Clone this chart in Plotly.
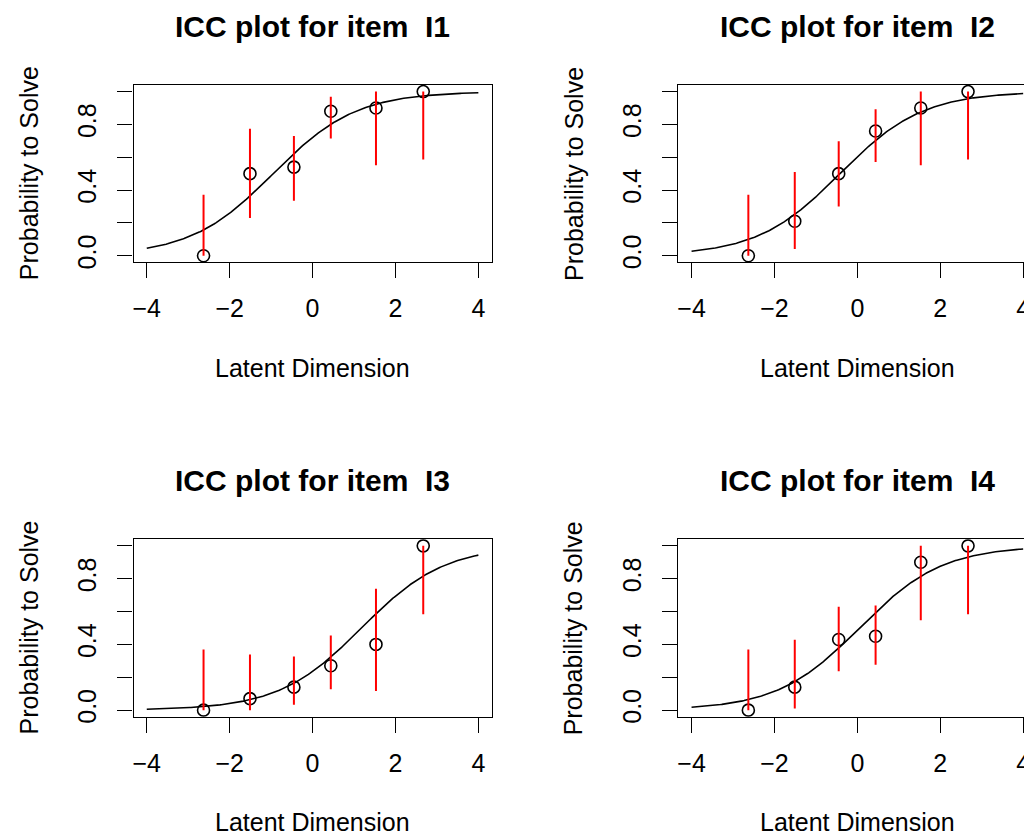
import numpy as np
import plotly.graph_objects as go

# ---------------- data ----------------
items = ["I1", "I2", "I3", "I4"]
item_location = [-0.95, -0.42, 1.18, 0.05]          # point where curve = 0.5
group_x = [-2.63, -1.51, -0.45, 0.44, 1.53, 2.67]     # latent group positions

emp_I1 = [0.00, 0.50, 0.54, 0.88, 0.90, 1.00]
emp_I2 = [0.00, 0.21, 0.50, 0.76, 0.90, 1.00]
emp_I3 = [0.00, 0.07, 0.14, 0.27, 0.40, 1.00]
emp_I4 = [0.00, 0.14, 0.43, 0.45, 0.90, 1.00]

lo_I1 = [0.00, 0.23, 0.335, 0.714, 0.551, 0.586]
lo_I2 = [0.00, 0.041, 0.30, 0.571, 0.551, 0.586]
lo_I3 = [0.00, 0.00, 0.033, 0.127, 0.116, 0.584]
lo_I4 = [0.00, 0.01, 0.237, 0.276, 0.547, 0.584]

hi_I1 = [0.371, 0.773, 0.729, 0.969, 1.00, 1.00]
hi_I2 = [0.371, 0.51, 0.698, 0.892, 1.00, 1.00]
hi_I3 = [0.369, 0.339, 0.327, 0.455, 0.739, 1.00]
hi_I4 = [0.369, 0.429, 0.629, 0.637, 1.00, 1.00]

emp = [emp_I1, emp_I2, emp_I3, emp_I4]
lows = [lo_I1, lo_I2, lo_I3, lo_I4]
highs = [hi_I1, hi_I2, hi_I3, hi_I4]

x_ticks = [-4, -2, 0, 2, 4]
y_ticks = [0.0, 0.2, 0.4, 0.6, 0.8, 1.0]
y_ticktext = ["0.0", "", "0.4", "", "0.8", ""]

# ---------------- layout geometry (pixels) ----------------
W, H = 1024, 835
FONT = "Liberation Sans, Arial, Helvetica, sans-serif"
px_per_unit = 41.45
panels = [
    dict(left=133.5, right=491.7, top=85.0, bottom=262.3),
    dict(left=678.3, right=1024.0, top=85.0, bottom=262.3),
    dict(left=133.5, right=491.7, top=539.3, bottom=716.7),
    dict(left=678.3, right=1024.0, top=539.3, bottom=716.7),
]

fig = go.Figure()
curve_x = np.linspace(-4, 4, 241)

for i, name in enumerate(items):
    p = panels[i]
    xa = "x" if i == 0 else f"x{i+1}"
    ya = "y" if i == 0 else f"y{i+1}"
    b = item_location[i]
    curve_y = 1.0 / (1.0 + np.exp(-(curve_x - b)))
    fig.add_trace(go.Scatter(x=curve_x, y=curve_y, mode="lines",
                             line=dict(color="black", width=1.6),
                             xaxis=xa, yaxis=ya, showlegend=False, hoverinfo="skip"))
    fig.add_trace(go.Scatter(x=group_x, y=emp[i], mode="markers",
                             marker=dict(symbol="circle-open", size=12,
                                         color="black", line=dict(width=1.6, color="black")),
                             xaxis=xa, yaxis=ya, showlegend=False))
    bx, by = [], []
    for gx, lo, hi in zip(group_x, lows[i], highs[i]):
        bx += [gx, gx, None]
        by += [lo, hi, None]
    fig.add_trace(go.Scatter(x=bx, y=by, mode="lines",
                             line=dict(color="red", width=2),
                             xaxis=xa, yaxis=ya, showlegend=False, hoverinfo="skip"))

    x_left = -4.32
    x_right = x_left + (p["right"] - p["left"]) / px_per_unit
    right_cut = p["right"] >= W
    axis_common = dict(showgrid=False, zeroline=False, showline=True,
                       linecolor="black", linewidth=1.3, ticks="outside",
                       ticklen=15, tickwidth=1.3, tickcolor="black",
                       tickfont=dict(family=FONT, size=25, color="black"),
                       automargin=False, ticklabeloverflow="allow")
    fig.update_layout(**{
        ("xaxis" if i == 0 else f"xaxis{i+1}"): dict(
            axis_common, domain=[p["left"] / W, p["right"] / W],
            range=[x_left, x_right], tickvals=x_ticks, mirror=True,
            anchor=ya, ticklabelstandoff=9),
        ("yaxis" if i == 0 else f"yaxis{i+1}"): dict(
            axis_common, domain=[1 - p["bottom"] / H, 1 - p["top"] / H],
            range=[-0.04, 1.04], tickvals=y_ticks, ticktext=y_ticktext,
            tickangle=-90, mirror=(not right_cut), anchor=xa,
            ticklabelstandoff=11),
    })

    cx = (p["left"] + 179.1) / W
    fig.add_annotation(text=f"<b>ICC plot for item  {name}</b>", xref="paper", yref="paper",
                       x=cx, y=1 - (p["top"] - 59) / H, xanchor="center", yanchor="middle",
                       showarrow=False, font=dict(family=FONT, size=30, color="black"))
    fig.add_annotation(text="Latent Dimension", xref="paper", yref="paper",
                       x=cx, y=1 - (p["top"] + 283) / H, xanchor="center", yanchor="middle",
                       showarrow=False, font=dict(family=FONT, size=25, color="black"))
    fig.add_annotation(text="Probability to Solve", xref="paper", yref="paper",
                       x=(p["left"] - 105) / W, y=1 - (p["top"] + p["bottom"]) / 2 / H,
                       xanchor="center", yanchor="middle", textangle=-90,
                       showarrow=False, font=dict(family=FONT, size=25, color="black"))

fig.update_layout(width=W, height=H, margin=dict(l=0, r=0, t=0, b=0),
                  paper_bgcolor="white", plot_bgcolor="white", showlegend=False)

fig.write_html("out.html")
